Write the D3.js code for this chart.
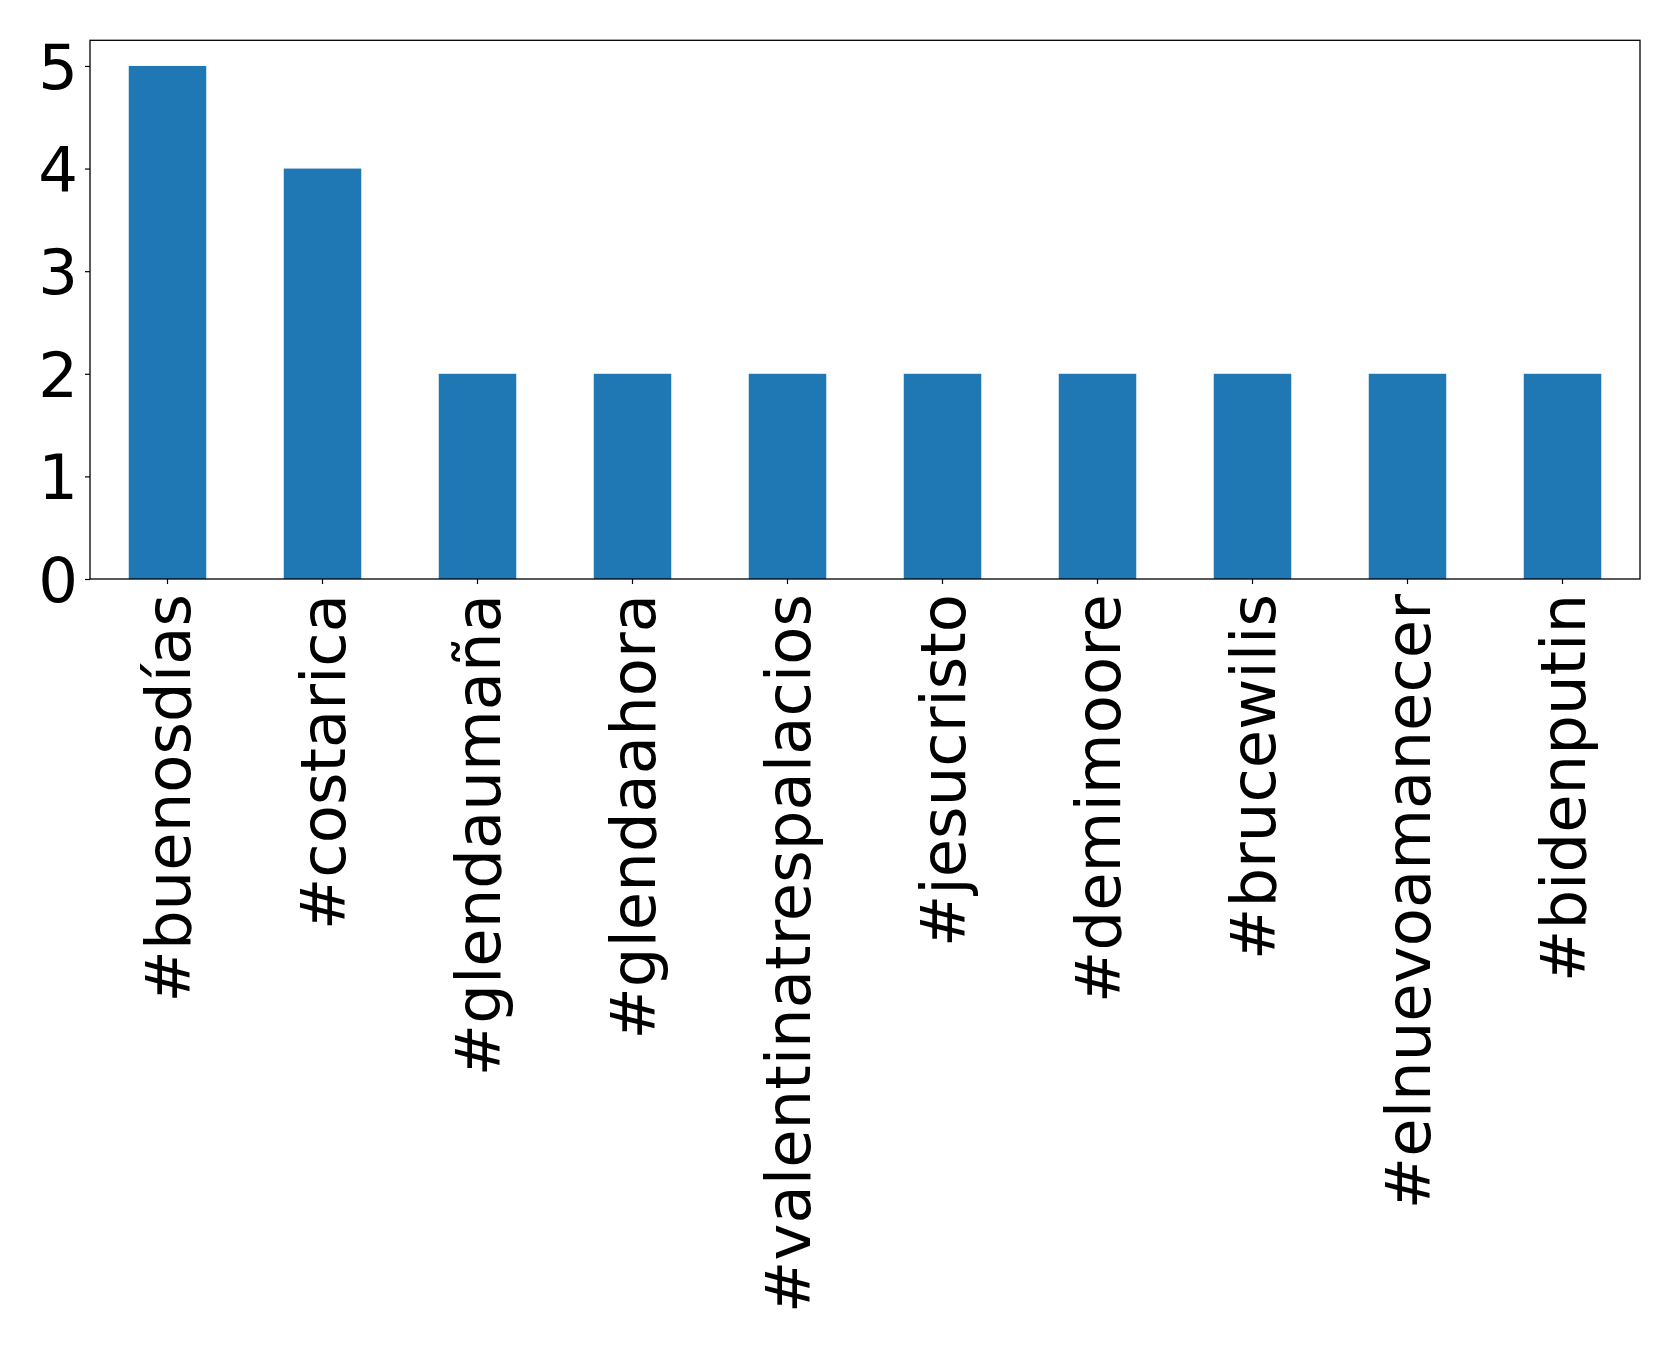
<!DOCTYPE html>
<html>
<head>
<meta charset="utf-8">
<script src="https://cdn.jsdelivr.net/npm/d3@7"></script>
<style>
  html, body { margin: 0; padding: 0; background: #fff; }
  text { font-family: "DejaVu Sans", sans-serif; fill: #000; }
</style>
</head>
<body>
<svg id="chart" width="1679" height="1347"></svg>
<script>
const categories = ["#buenosdías", "#costarica", "#glendaumaña", "#glendaahora", "#valentinatrespalacios", "#jesucristo", "#demimoore", "#brucewilis", "#elnuevoamanecer", "#bidenputin"];
const values = [5, 4, 2, 2, 2, 2, 2, 2, 2, 2];
const yTicks = [0, 1, 2, 3, 4, 5];

(function () {
  const svg = d3.select("#chart");
  const mLeft = 90, mRight = 1640, mTop = 40.3, mBottom = 579;
  const fontSize = 62.5;

  const x = d3.scaleBand().domain(categories).range([mLeft, mRight]).paddingInner(0.5).paddingOuter(0.25);
  const y = d3.scaleLinear().domain([0, 5.25]).range([mBottom, mTop]);

  svg.append("rect").attr("width", 1679).attr("height", 1347).attr("fill", "#fff");

  svg.append("g").selectAll("rect").data(values).join("rect")
    .attr("x", (d, i) => x(categories[i]))
    .attr("width", x.bandwidth())
    .attr("y", d => y(d))
    .attr("height", d => y(0) - y(d))
    .attr("fill", "#1f77b4");

  const yAxis = svg.append("g").attr("transform", `translate(${mLeft},0)`)
    .call(d3.axisLeft(y).tickValues(yTicks).tickFormat(d3.format("d")).tickSize(5).tickPadding(7));
  yAxis.select(".domain").remove();
  yAxis.selectAll(".tick line").attr("stroke", "#000").attr("stroke-width", 1.2);
  yAxis.selectAll(".tick text").attr("font-size", fontSize).attr("font-family", "DejaVu Sans").attr("fill", "#000").attr("dy", "0.36em");

  const xAxis = svg.append("g").attr("transform", `translate(0,${mBottom})`)
    .call(d3.axisBottom(x).tickSize(5).tickPadding(0));
  xAxis.select(".domain").remove();
  xAxis.selectAll(".tick line").attr("stroke", "#000").attr("stroke-width", 1.2);
  xAxis.selectAll(".tick text")
    .attr("font-size", fontSize)
    .attr("font-family", "DejaVu Sans")
    .attr("fill", "#000")
    .attr("text-anchor", "end")
    .attr("transform", "translate(0,15) rotate(-90)")
    .attr("x", 0).attr("y", 0)
    .attr("dy", "0.36em");

  svg.append("rect")
    .attr("x", mLeft).attr("y", mTop)
    .attr("width", mRight - mLeft).attr("height", mBottom - mTop)
    .attr("fill", "none").attr("stroke", "#000").attr("stroke-width", 1.3);
})();
</script>
</body>
</html>
